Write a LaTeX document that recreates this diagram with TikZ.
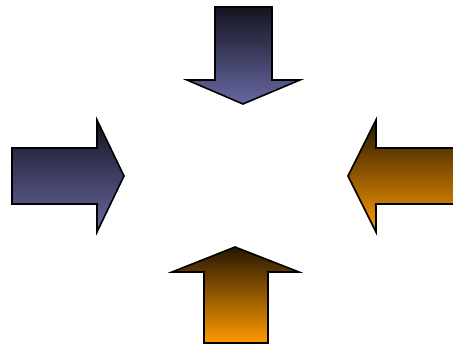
\documentclass[tikz,border=0pt]{standalone}
\definecolor{bdark}{HTML}{141420}
\definecolor{blight}{HTML}{6868A4}
\definecolor{odark}{HTML}{261700}
\definecolor{olight}{HTML}{FF9A00}
\tikzset{
  every picture/.style={line width=1.6pt, line join=miter},
  bluearrow/.style={draw=black, top color=bdark, bottom color=blight},
  orangearrow/.style={draw=black, top color=odark, bottom color=olight},
}
\begin{document}
\begin{tikzpicture}[x=1pt, y=-1pt]
  \useasboundingbox (0,0) rectangle (453,347);
  % pointing down, from the top
  \draw[bluearrow] (215,7) -- (272,7) -- (272,80) -- (300,80) -- (243,104)
    -- (187,80) -- (215,80) -- cycle;
  % pointing right, from the left
  \draw[bluearrow] (12,148) -- (97,148) -- (97,120) -- (124,176) -- (97,232)
    -- (97,204) -- (12,204) -- cycle;
  % pointing left, from the right
  \draw[orangearrow] (458,148) -- (376,148) -- (376,120) -- (348,176) -- (376,232)
    -- (376,204) -- (458,204) -- cycle;
  % pointing up, from below
  \draw[orangearrow] (204,343) -- (204,272) -- (172,272) -- (235,247) -- (299,272)
    -- (268,272) -- (268,343) -- cycle;
\end{tikzpicture}
\end{document}
